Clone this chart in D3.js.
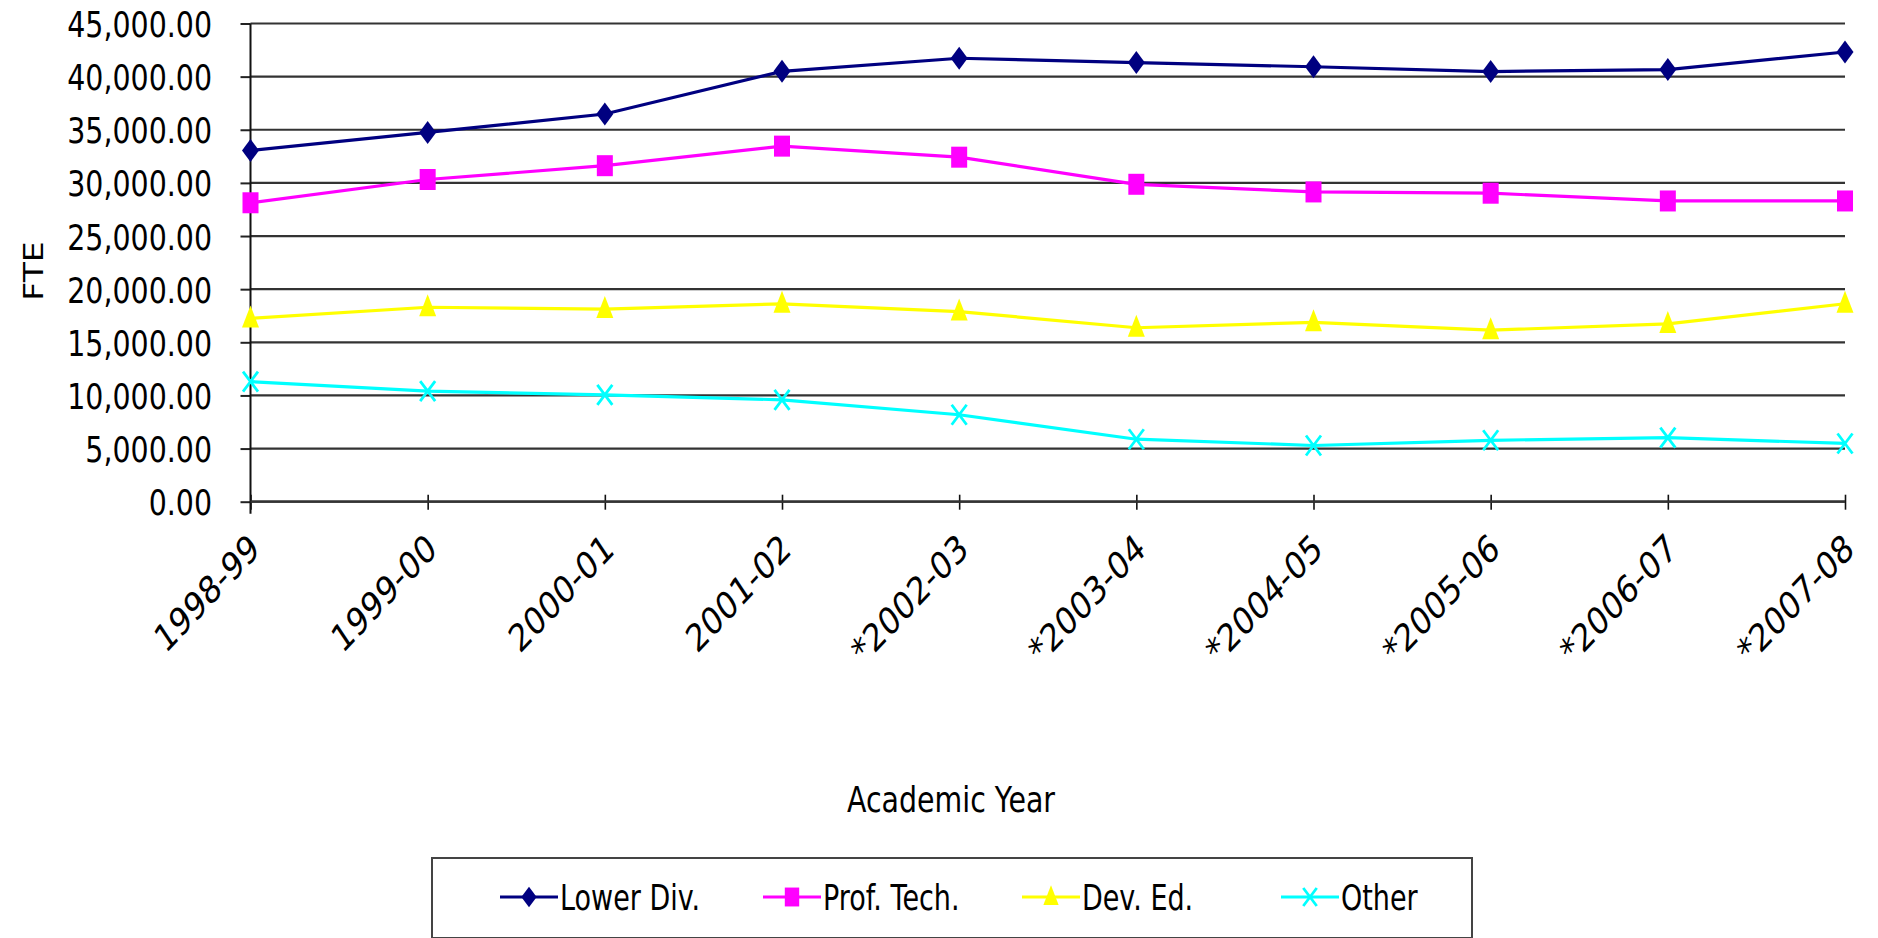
<!DOCTYPE html>
<html>
<head>
<meta charset="utf-8">
<script src="https://cdn.jsdelivr.net/npm/d3@7"></script>
<style>
  html, body { margin: 0; padding: 0; background: #fff; }
  svg { display: block; font-family: "DejaVu Sans", Verdana, sans-serif; }
</style>
</head>
<body>
<svg id="chart" width="1878" height="938"></svg>
<script>
const categories = ["1998-99","1999-00","2000-01","2001-02","*2002-03","*2003-04","*2004-05","*2005-06","*2006-07","*2007-08"];
const lowerDiv  = [33050, 34750, 36480, 40500, 41730, 41320, 40930, 40480, 40660, 42320];
const profTech  = [28130, 30320, 31620, 33460, 32420, 29870, 29150, 29030, 28300, 28300];
const devEd     = [17250, 18300, 18130, 18620, 17890, 16370, 16880, 16140, 16730, 18630];
const other     = [11300, 10400, 10060, 9590, 8180, 5880, 5290, 5780, 6030, 5480];
const yTicks    = [0, 5000, 10000, 15000, 20000, 25000, 30000, 35000, 40000, 45000];
const seriesNames  = ["Lower Div.", "Prof. Tech.", "Dev. Ed.", "Other"];
const seriesColors = ["#000080", "#FF00FF", "#FFFF00", "#00FFFF"];
const seriesShapes = ["diamond", "square", "triangle", "x"];
const yTitle = "FTE";
const xTitle = "Academic Year";

const seriesValues = [lowerDiv, profTech, devEd, other];
const series = seriesNames.map((n, i) => ({name: n, color: seriesColors[i], shape: seriesShapes[i], values: seriesValues[i]}));

const SX = 0.79; // horizontal squeeze of the original rendering
const svg = d3.select("#chart");
const x0 = 250.5, x1 = 1845, yTop = 23.5, yBot = 501.7;

const x = d3.scalePoint().domain(categories).range([x0, x1]);
const y = d3.scaleLinear().domain([0, 45000]).range([yBot, yTop]);

// gridlines
svg.append("g").selectAll("line").data(yTicks).join("line")
  .attr("x1", x0).attr("x2", x1)
  .attr("y1", d => y(d)).attr("y2", d => y(d))
  .attr("stroke", "#333").attr("stroke-width", 2.2);

// y axis
const yAxis = svg.append("g").attr("transform", `translate(${x0},0)`)
  .call(d3.axisLeft(y).tickValues(yTicks).tickFormat(d3.format(",.2f")).tickSize(10).tickSizeOuter(0));
yAxis.select(".domain").remove();
yAxis.selectAll(".tick line").attr("stroke", "#222").attr("stroke-width", 2);
yAxis.selectAll(".tick text")
  .attr("font-size", 36).attr("fill", "#000")
  .attr("font-family", "DejaVu Sans, sans-serif")
  .attr("transform", `scale(${SX},1)`)
  .attr("x", -38.5 / SX).attr("dy", "0.36em");
svg.append("line").attr("x1", x0).attr("x2", x0).attr("y1", yTop).attr("y2", yBot + 12)
  .attr("stroke", "#111").attr("stroke-width", 2);

// x axis
const xAxis = svg.append("g").attr("transform", `translate(0,${yBot})`)
  .call(d3.axisBottom(x).tickSize(8).tickSizeOuter(0));
xAxis.select(".domain").remove();
xAxis.selectAll(".tick line").attr("y1", -7).attr("stroke", "#111").attr("stroke-width", 1.6);
xAxis.selectAll(".tick text").remove();
svg.append("line").attr("x1", x0).attr("x2", x1).attr("y1", yBot).attr("y2", yBot)
  .attr("stroke", "#333").attr("stroke-width", 2.2);

// rotated x labels
svg.append("g").selectAll("text").data(categories).join("text")
  .attr("transform", d => `translate(${x(d) + 4},${yBot + 40}) scale(${SX},1) rotate(-40)`)
  .attr("text-anchor", "end").attr("dy", "0.36em")
  .attr("font-size", 38).attr("fill", "#000")
  .text(d => d);

// marker generator
function marker(g, shape, color, k) {
  k = k || 1;
  if (shape === "diamond") {
    g.append("path").attr("d", `M0,${-11.5*k} L${8.5*k},0 L0,${11.5*k} L${-8.5*k},0 Z`).attr("fill", color);
  } else if (shape === "square") {
    g.append("rect").attr("x", -8*k).attr("y", -10.5*k).attr("width", 16*k).attr("height", 21*k).attr("fill", color);
  } else if (shape === "triangle") {
    g.append("path").attr("d", `M0,${-13*k} L${8.5*k},${9*k} L${-8.5*k},${9*k} Z`).attr("fill", color);
  } else if (shape === "x") {
    g.append("path").attr("d", `M${-7.5*k},${-10*k} L${7.5*k},${10*k} M${7.5*k},${-10*k} L${-7.5*k},${10*k}`)
      .attr("stroke", color).attr("stroke-width", 2.8).attr("fill", "none");
  }
}

const line = d3.line().x((d, i) => x(categories[i])).y(d => y(d));
series.forEach(s => {
  svg.append("path").datum(s.values).attr("d", line)
    .attr("fill", "none").attr("stroke", s.color).attr("stroke-width", 3.2);
  s.values.forEach((v, i) => {
    const g = svg.append("g").attr("transform", `translate(${x(categories[i])},${y(v)})`);
    marker(g, s.shape, s.color);
  });
});

// axis titles
svg.append("text").attr("transform", `translate(43,271) scale(${SX},1) rotate(-90)`)
  .attr("text-anchor", "middle").attr("font-size", 33).text(yTitle);
svg.append("text").attr("transform", `translate(951,812) scale(${SX},1)`)
  .attr("text-anchor", "middle").attr("font-size", 36).text(xTitle);

// legend
const lg = svg.append("g");
lg.append("rect").attr("x", 432).attr("y", 858).attr("width", 1040).attr("height", 80)
  .attr("fill", "#fff").attr("stroke", "#444").attr("stroke-width", 2);
const legendX = d3.scaleOrdinal().domain(seriesNames).range([500, 763, 1022, 1281]);
series.forEach(s => {
  const lx = legendX(s.name), ly = 897;
  lg.append("line").attr("x1", lx).attr("x2", lx + 58).attr("y1", ly).attr("y2", ly)
    .attr("stroke", s.color).attr("stroke-width", 3.2);
  const g = lg.append("g").attr("transform", `translate(${lx + 29},${ly})`);
  marker(g, s.shape, s.color, 0.9);
  lg.append("text").attr("transform", `translate(${lx + 60},${ly}) scale(0.75,1)`)
    .attr("dy", "0.36em").attr("font-size", 36).text(s.name);
});
</script>
</body>
</html>
